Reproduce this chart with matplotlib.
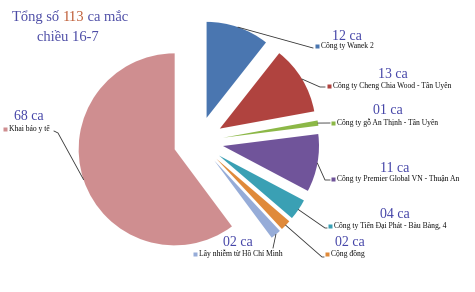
import numpy as np
import matplotlib
matplotlib.use("Agg")
import matplotlib.pyplot as plt

categories = [
    "Công ty Wanek 2",
    "Công ty Cheng Chia Wood - Tân Uyên",
    "Công ty gỗ An Thịnh - Tân Uyên",
    "Công ty Premier Global VN - Thuận An",
    "Công ty Tiến Đại Phát - Bàu Bàng, 4",
    "Cộng đồng",
    "Lây nhiễm từ Hồ Chí Minh",
    "Khai báo y tế",
]
values = [12, 13, 1, 11, 4, 2, 2, 68]
value_labels = ["12 ca", "13 ca", "01 ca", "11 ca", "04 ca", "02 ca", "02 ca", "68 ca"]

colors = ["#4a76b0", "#b0433f", "#8cb847", "#70549a",
          "#3aa0b4", "#e08a3a", "#96acd8", "#cf8e90"]

W, H = 475, 292
def P(x, y):
    # image pixel -> data coords (y up)
    return (x, H - y)

# label layout (image px): value-label centre, square marker, leader elbow
val_pos = [(347, 36), (393, 74), (388, 111), (395, 169),
           (395, 214), (350, 243), (238, 243), (29, 117)]
sq_pos = [(317, 46), (329, 86), (333, 123), (333, 179),
          (330, 226), (327, 254), (195, 254), (5, 129)]
elbow = [None, (320, 87), None, (325, 180),
         (325, 228), (322, 257), None, (58, 133)]
line_end = [(313, 48), (325, 87), (330, 123), (330, 180),
            (327, 228), (324, 257), (273, 248), (54, 131)]

fig = plt.figure(figsize=(W / 100, H / 100), dpi=100)
ax = fig.add_axes([0, 0, 1, 1])

cx, cy = P(198.4, 141.5)
R = 96
expl = 25  # offset in data units (px)
wedges, _ = ax.pie(values, colors=colors, startangle=90, counterclock=False,
                   explode=[expl] * len(values), center=(cx, cy), radius=R,
                   wedgeprops=dict(linewidth=0))
ax.set_xlim(0, W)
ax.set_ylim(0, H)
ax.set_aspect("equal")
ax.axis("off")

ca_color = "#4545a8"
serif = ["Liberation Serif", "DejaVu Serif"]

for i, w in enumerate(wedges):
    ang = np.deg2rad((w.theta1 + w.theta2) / 2)
    rr = R + expl
    start = (cx + rr * np.cos(ang), cy + rr * np.sin(ang))
    pts = [start]
    if elbow[i] is not None:
        pts.append(P(*elbow[i]))
    pts.append(P(*line_end[i]))
    xs, ys = zip(*pts)
    ax.plot(xs, ys, color="#333333", lw=0.6)

    sx, sy = P(*sq_pos[i])
    ax.plot(sx, sy, marker="s", ms=2.6, color=colors[i], mec="none")
    ax.text(sx + 4, sy, categories[i], fontsize=5.5, family=serif,
            color="#111111", ha="left", va="center")
    vx, vy = P(*val_pos[i])
    ax.text(vx, vy, value_labels[i], fontsize=10, family=serif,
            color=ca_color, ha="center", va="center")

# title
title_color = "#4c4ca6"
t1 = ax.text(*P(12, 21), "Tổng số ", fontsize=10.5, family=serif,
             color=title_color, ha="left", va="baseline")
t2 = ax.annotate("113", xy=(1, 0), xycoords=t1, fontsize=10.5, family=serif,
                 color="#c0603a", ha="left", va="bottom")
ax.annotate(" ca mắc", xy=(1, 0), xycoords=t2, fontsize=10.5, family=serif,
            color=title_color, ha="left", va="bottom")
ax.text(*P(68, 41), "chiều 16-7", fontsize=10.5, family=serif,
        color=title_color, ha="center", va="baseline")

fig.savefig("out.png", dpi=100)
